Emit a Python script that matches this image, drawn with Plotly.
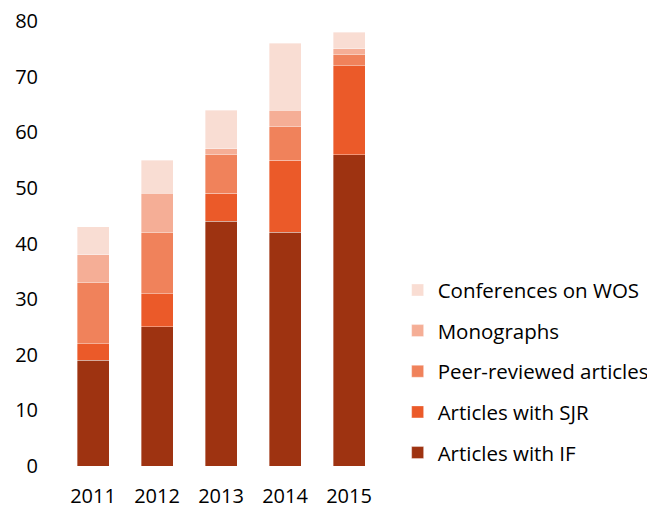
import plotly.graph_objects as go

years = ["2011", "2012", "2013", "2014", "2015"]
articles_if = [19, 25, 44, 42, 56]
articles_sjr = [3, 6, 5, 13, 16]
peer_reviewed = [11, 11, 7, 6, 2]
monographs = [5, 7, 1, 3, 1]
conferences_wos = [5, 6, 7, 12, 3]

series = [
    ("Articles with IF", articles_if, "#9E3311"),
    ("Articles with SJR", articles_sjr, "#EB5A29"),
    ("Peer-reviewed articles", peer_reviewed, "#F0825B"),
    ("Monographs", monographs, "#F5AE96"),
    ("Conferences on WOS", conferences_wos, "#F9DDD3"),
]

fig = go.Figure()
n = len(series)
for i, (name, vals, color) in enumerate(series):
    fig.add_trace(go.Bar(
        x=years, y=vals, name=name, legendgroup=f"g{i}", legendrank=n - i,
        marker=dict(color=color, line=dict(color="rgba(255,255,255,0.45)", width=0.8)),
    ))

font = dict(family="Open Sans, Noto Sans, sans-serif", size=20.5, color="#000")
tickfont = dict(family="Open Sans, Noto Sans, sans-serif", size=20, color="#000")
fig.update_layout(
    barmode="stack",
    bargap=0.5,
    width=647, height=501,
    margin=dict(l=53, r=274, t=13, b=43, autoexpand=False),
    paper_bgcolor="white", plot_bgcolor="white",
    font=font,
    showlegend=True,
    legend=dict(
        traceorder="grouped",
        tracegroupgap=11,
        x=1.052, xanchor="left",
        y=-0.016, yanchor="bottom",
        font=font,
        itemwidth=30,
    ),
    xaxis=dict(showgrid=False, showline=False, zeroline=False, ticks="", automargin=False,
               ticklabelstandoff=16, ticklabeloverflow="allow", tickfont=tickfont),
    yaxis=dict(range=[0, 80], dtick=10, showgrid=False, showline=False, zeroline=False,
               automargin=False, ticks="", ticklabelstandoff=22, ticklabeloverflow="allow",
               tickfont=tickfont),
)

fig.write_html("out.html")
